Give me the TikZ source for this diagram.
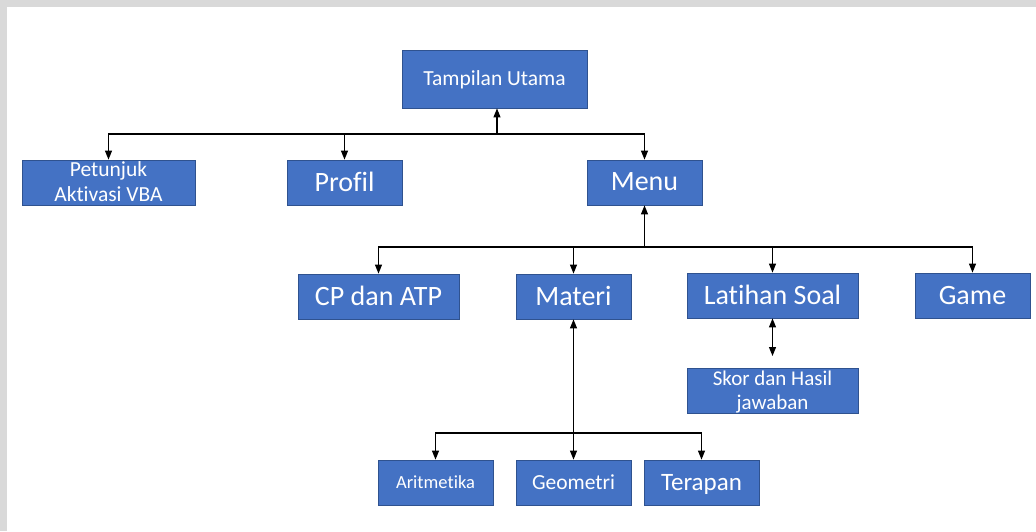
\documentclass[tikz,border=0pt]{standalone}
\usepackage{fontspec}
\setmainfont[Ligatures=NoCommon]{Carlito}
\usetikzlibrary{arrows.meta}
\definecolor{boxblue}{HTML}{4472C4}
\definecolor{boxedge}{HTML}{2F528F}
\definecolor{framegrey}{HTML}{D9D9D9}
\tikzset{
  box/.style={rectangle,fill=boxblue,draw=boxedge,line width=0.8pt,text=white,inner sep=0pt,align=center,text depth=1pt},
  bigtxt/.style={font=\fontsize{28}{31}\selectfont},
  midtxt/.style={font=\fontsize{21.5}{25}\selectfont},
  arr/.style={-{Triangle[length=9pt,width=7pt]},line width=1.1pt},
  arrboth/.style={{Triangle[length=9pt,width=7pt]}-{Triangle[length=9pt,width=7pt]},line width=1.1pt}
}
\begin{document}
\begin{tikzpicture}[x=1pt,y=-1pt]
	\fill[framegrey] (0,0) rectangle (1036,531);
	\fill[white] (7,7) rectangle (1036,531);
	\useasboundingbox (0,0) rectangle (1036,531);
	% top level
	\node[box,midtxt,minimum width=185pt,minimum height=58pt] (utama) at (494.5,79) {Tampilan Utama};
	\node[box,midtxt,minimum width=173pt,minimum height=45pt] (petunjuk) at (108.5,182.5) {Petunjuk\\Aktivasi VBA};
	\node[box,bigtxt,minimum width=115pt,minimum height=45pt] (profil) at (344.5,182.5) {Profil};
	\node[box,bigtxt,minimum width=115pt,minimum height=45pt] (menu) at (644.5,182.5) {Menu};
	% menu level
	\node[box,bigtxt,minimum width=161pt,minimum height=45pt] (cp) at (378.5,296.5) {CP dan ATP};
	\node[box,bigtxt,minimum width=115pt,minimum height=45pt] (materi) at (573.5,296.5) {Materi};
	\node[box,bigtxt,minimum width=171pt,minimum height=45pt] (latihan) at (772.5,295.5) {Latihan Soal};
	\node[box,bigtxt,minimum width=115pt,minimum height=45pt] (game) at (972.5,295.5) {Game};
	\node[box,font=\fontsize{21}{24}\selectfont,minimum width=171pt,minimum height=45pt] (skor) at (772.5,390.5) {Skor dan Hasil\\jawaban};
	% materi level
	\node[box,font=\fontsize{18.5}{22}\selectfont,minimum width=115pt,minimum height=45pt] (aritmetika) at (435.5,482.5) {Aritmetika};
	\node[box,midtxt,minimum width=115pt,minimum height=45pt] (geometri) at (573.5,482.5) {Geometri};
	\node[box,font=\fontsize{25}{28}\selectfont,minimum width=115pt,minimum height=45pt] (terapan) at (701.5,482.5) {Terapan};
	% connectors
	\coordinate (bus1) at (497,134);
	\coordinate (bus2) at (644.5,247);
	\coordinate (bus3) at (573.5,433);
	\coordinate (skortip) at (772.5,356);
	\draw[arr] (bus1) -- (utama.south -| bus1);
	\draw[arr] (bus1) -| (petunjuk.north);
	\draw[arr] (bus1) -| (profil.north);
	\draw[arr] (bus1) -| (menu.north);
	\draw[arr] (bus2) -- (menu.south);
	\draw[arr] (bus2) -| (cp.north);
	\draw[arr] (bus2) -| (materi.north);
	\draw[arr] (bus2) -| (latihan.north);
	\draw[arr] (bus2) -| (game.north);
	\draw[arrboth] (latihan.south) -- (skortip);
	\draw[arrboth] (materi.south) -- (geometri.north);
	\draw[arr] (bus3) -| (aritmetika.north);
	\draw[arr] (bus3) -| (terapan.north);
\end{tikzpicture}
\end{document}
